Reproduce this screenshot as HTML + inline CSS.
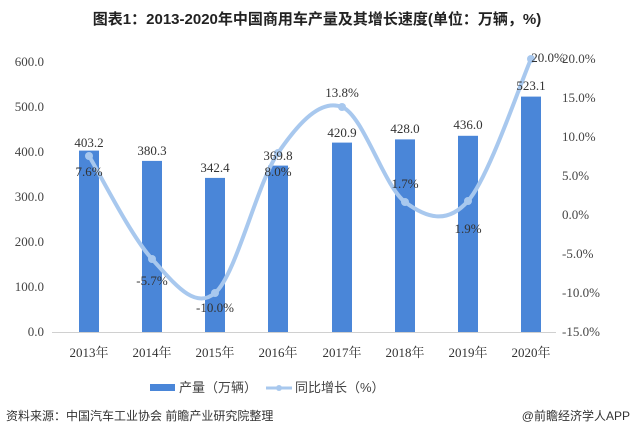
<!DOCTYPE html><html><head><meta charset="utf-8"><style>body{margin:0;background:#fff;width:634px;height:438px;overflow:hidden}</style></head><body>
<svg width="634" height="438" xmlns="http://www.w3.org/2000/svg" font-family="Liberation Serif, Noto Serif CJK SC, serif" font-size="13" fill="#333">
<text x="317" y="24" text-anchor="middle" font-family="Liberation Sans, Noto Sans CJK SC, sans-serif" font-weight="bold" font-size="15" fill="#222">图表1：2013-2020年中国商用车产量及其增长速度(单位：万辆，%)</text>
<g text-anchor="end" fill="#444">
<text x="44" y="66">600.0</text><text x="44" y="111">500.0</text><text x="44" y="156">400.0</text><text x="44" y="201">300.0</text><text x="44" y="246">200.0</text><text x="44" y="291">100.0</text><text x="44" y="336">0.0</text></g>
<g text-anchor="start" fill="#444">
<text x="562" y="63">20.0%</text><text x="562" y="102">15.0%</text><text x="562" y="141">10.0%</text><text x="562" y="180">5.0%</text><text x="562" y="219">0.0%</text><text x="562" y="258">-5.0%</text><text x="562" y="297">-10.0%</text><text x="562" y="336">-15.0%</text></g>
<line x1="52" y1="332.5" x2="556" y2="332.5" stroke="#d0d0d0"/>
<g fill="#4a86d8">
<rect x="79" y="150.6" width="20" height="181.4"/><rect x="142" y="160.9" width="20" height="171.1"/><rect x="205" y="177.9" width="20" height="154.1"/><rect x="268" y="165.6" width="20" height="166.4"/><rect x="332" y="142.6" width="20" height="189.4"/><rect x="395" y="139.4" width="20" height="192.6"/><rect x="458" y="135.8" width="20" height="196.2"/><rect x="521" y="96.6" width="20" height="235.4"/></g>
<path d="M89,156 C99.5,173.2 131,236.2 152,259 C173,281.8 194,310.7 215,293 C236,275.3 256.8,184 278,153 C299.2,122 320.8,98.8 342,107 C363.2,115.2 384,186.3 405,202 C426,217.7 447,224.8 468,201 C489,177.2 520.5,82.7 531,59" fill="none" stroke="#a8c8ee" stroke-width="4"/>
<g fill="#a8c8ee"><circle cx="89" cy="156" r="4"/><circle cx="152" cy="259" r="4"/><circle cx="215" cy="293" r="4"/><circle cx="278" cy="153" r="4"/><circle cx="342" cy="107" r="4"/><circle cx="405" cy="202" r="4"/><circle cx="468" cy="201" r="4"/><circle cx="531" cy="59" r="4"/></g>
<g text-anchor="middle" fill="#333">
<text x="89" y="147">403.2</text><text x="152" y="155">380.3</text><text x="215" y="172">342.4</text><text x="278" y="160">369.8</text><text x="342" y="137">420.9</text><text x="405" y="133">428.0</text><text x="468" y="129">436.0</text><text x="531" y="90">523.1</text>
<text x="89" y="176">7.6%</text><text x="152" y="285">-5.7%</text><text x="215" y="312">-10.0%</text><text x="278" y="176">8.0%</text><text x="342" y="97">13.8%</text><text x="405" y="188">1.7%</text><text x="468" y="233">1.9%</text><text x="548" y="62">20.0%</text>
<text x="89" y="357">2013年</text><text x="152" y="357">2014年</text><text x="215" y="357">2015年</text><text x="278" y="357">2016年</text><text x="342" y="357">2017年</text><text x="405" y="357">2018年</text><text x="468" y="357">2019年</text><text x="531" y="357">2020年</text></g>
<rect x="150" y="384" width="25" height="7" fill="#4a86d8"/>
<text x="179" y="392" font-family="Liberation Sans, Noto Sans CJK SC, sans-serif" font-size="13" fill="#444">产量（万辆）</text>
<line x1="266" y1="388" x2="292" y2="388" stroke="#a8c8ee" stroke-width="3"/><circle cx="279" cy="388" r="3" fill="#a8c8ee"/>
<text x="295" y="392" font-family="Liberation Sans, Noto Sans CJK SC, sans-serif" font-size="13" fill="#444">同比增长（%）</text>
<text x="6" y="420" font-family="Liberation Sans, Noto Sans CJK SC, sans-serif" font-size="12" fill="#333">资料来源：中国汽车工业协会 前瞻产业研究院整理</text>
<text x="630" y="420" text-anchor="end" font-family="Liberation Sans, Noto Sans CJK SC, sans-serif" font-size="12" fill="#333">@前瞻经济学人APP</text>
</svg></body></html>
